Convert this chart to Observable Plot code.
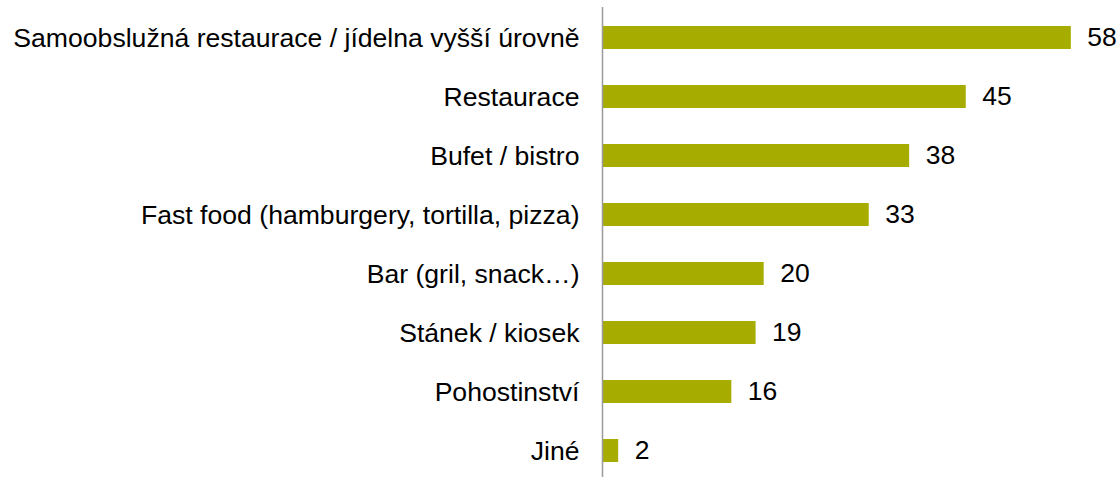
<!DOCTYPE html>
<html>
<head>
<meta charset="utf-8">
<script src="https://cdn.jsdelivr.net/npm/d3@7"></script>
<script src="https://cdn.jsdelivr.net/npm/@observablehq/plot@0.6"></script>
<style>
  html, body { margin: 0; padding: 0; background: #fff; }
  #chart { width: 1120px; height: 477px; }
</style>
</head>
<body>
<div id="chart"></div>
<script>
const categories = [
  "Samoobslužná restaurace / jídelna vyšší úrovně",
  "Restaurace",
  "Bufet / bistro",
  "Fast food (hamburgery, tortilla, pizza)",
  "Bar (gril, snack…)",
  "Stánek / kiosek",
  "Pohostinství",
  "Jiné"
];
const values = [58, 45, 38, 33, 20, 19, 16, 2];

const data = categories.map((c, i) => ({ category: c, value: values[i] }));

const chart = Plot.plot({
  width: 1120,
  height: 477,
  marginLeft: 602,
  marginRight: 33,
  marginTop: 7,
  marginBottom: 0,
  style: { fontFamily: "'Liberation Sans', Arial, sans-serif", fontSize: "26.6px", color: "#000", background: "#fff", overflow: "visible" },
  x: { domain: [0, 60], axis: null },
  y: { domain: categories, paddingInner: 0.61, paddingOuter: 0.27, align: 0.56, label: null },
  marks: [
    Plot.barX(data, { x: "value", y: "category", fill: "#a6ad00" }),
    Plot.text(data, { x: "value", y: "category", text: d => String(d.value), textAnchor: "start", dx: 16, fontSize: 26.5, fill: "#000" }),
    Plot.axisY({ tickSize: 0, tickPadding: 23, fontSize: 26.6, label: null, fill: "#000" }),
    Plot.ruleX([0], { stroke: "#9a9a9a", strokeWidth: 1.5 })
  ]
});
document.getElementById("chart").append(chart);
</script>
</body>
</html>
